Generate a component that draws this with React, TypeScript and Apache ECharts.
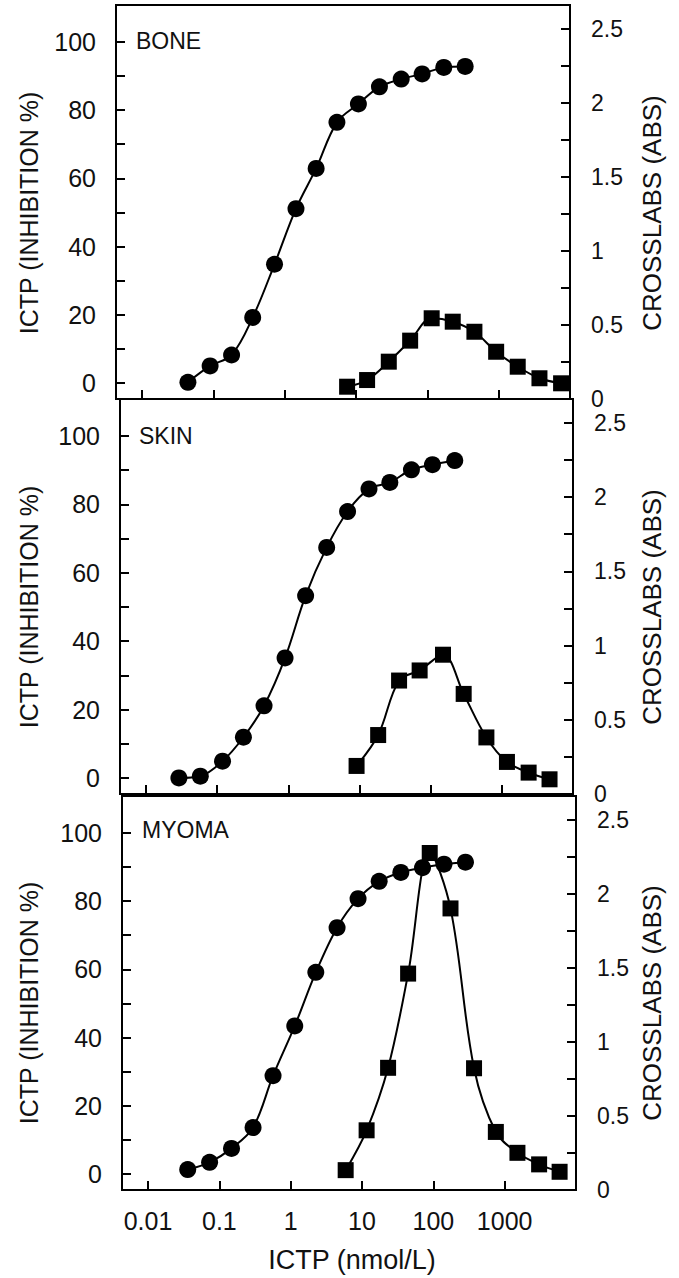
import React, { useEffect, useRef } from "react";
import * as echarts from "echarts";

// ---- axis ticks / labels ----
const xTickValues = [0.01, 0.1, 1, 10, 100, 1000];
const xTickLabels = ["0.01", "0.1", "1", "10", "100", "1000"];
const leftTicks = [0, 10, 20, 30, 40, 50, 60, 70, 80, 90, 100];
const leftLabels = [0, 20, 40, 60, 80, 100];
const rightTicks = [0, 0.25, 0.5, 0.75, 1, 1.25, 1.5, 1.75, 2, 2.25, 2.5];
const rightLabels = [0, 0.5, 1, 1.5, 2, 2.5];
const panelNames = ["BONE", "SKIN", "MYOMA"];

// ---- BONE ----
const boneIctpConc = [0.044, 0.09, 0.18, 0.356, 0.72, 1.44, 2.76, 5.4, 10.8, 21.3, 43, 84.5, 170, 339];
const boneIctpInhibition = [0.2, 5.0, 8.2, 19.2, 34.8, 51.1, 62.9, 76.4, 81.8, 86.8, 89.1, 90.6, 92.5, 92.8];
const boneCrosslabsConc = [7.5, 14.3, 28.8, 57.4, 115, 227, 457, 922, 1850, 3730, 7500];
const boneCrosslabsAbs = [0.083, 0.128, 0.252, 0.394, 0.545, 0.522, 0.454, 0.319, 0.218, 0.14, 0.106];

// ---- SKIN ----
const skinIctpConc = [0.029, 0.058, 0.119, 0.234, 0.456, 0.9, 1.75, 3.46, 6.8, 13.6, 26.7, 53.7, 106, 218];
const skinIctpInhibition = [0, 0.5, 4.9, 11.9, 21.1, 35.1, 53.3, 67.4, 77.9, 84.5, 86.4, 90.1, 91.6, 92.8];
const skinCrosslabsConc = [9.1, 18.3, 36, 70, 149, 291, 607, 1180, 2380, 4680];
const skinCrosslabsAbs = [0.189, 0.397, 0.764, 0.832, 0.938, 0.674, 0.381, 0.216, 0.144, 0.099];

// ---- MYOMA ----
const myomaIctpConc = [0.036, 0.073, 0.148, 0.297, 0.566, 1.14, 2.25, 4.47, 8.8, 17.4, 35, 70.5, 141, 282];
const myomaIctpInhibition = [1.3, 3.4, 7.5, 13.6, 28.8, 43.4, 59.1, 72.2, 80.7, 85.8, 88.4, 89.8, 90.8, 91.4];
const myomaCrosslabsConc = [5.9, 11.6, 23.2, 44.3, 89, 174, 372, 752, 1510, 3040, 5890];
const myomaCrosslabsAbs = [0.134, 0.403, 0.825, 1.461, 2.275, 1.901, 0.822, 0.392, 0.251, 0.173, 0.123];

const ictpConc = [boneIctpConc, skinIctpConc, myomaIctpConc];
const ictpInhibition = [boneIctpInhibition, skinIctpInhibition, myomaIctpInhibition];
const crossConc = [boneCrosslabsConc, skinCrosslabsConc, myomaCrosslabsConc];
const crossAbs = [boneCrosslabsAbs, skinCrosslabsAbs, myomaCrosslabsAbs];

const FONT = '"Liberation Sans", Arial, Helvetica, sans-serif';
const INK = "#111";

const grids = [
  { left: 116, top: 5, width: 454, height: 394 },
  { left: 120, top: 399, width: 453, height: 395 },
  { left: 122, top: 796, width: 454, height: 394 },
];

const lg = (v: number) => Math.round(Math.log10(v) * 1e6) / 1e6;

export default function App() {
  const ref = useRef<HTMLDivElement>(null);
  useEffect(() => {
    if (!ref.current) return;
    const chart = echarts.init(ref.current, null, { renderer: "svg" });
    const xPos = xTickValues.map(lg);

    const xAxis: any[] = [];
    const yAxis: any[] = [];
    const series: any[] = [];
    const graphic: any[] = [];

    grids.forEach((g, i) => {
      xAxis.push({
        gridIndex: i,
        type: "value",
        position: "bottom",
        min: -2.365,
        max: 4.0,
        axisLine: { show: false, onZero: false },
        splitLine: { show: false },
        axisTick: {
          show: true,
          inside: true,
          length: 9,
          customValues: xPos,
          lineStyle: { color: "#000", width: 2 },
        },
        axisLabel: {
          show: i === 2,
          customValues: xPos,
          margin: 18,
          fontSize: 25,
          color: INK,
          fontFamily: FONT,
          formatter: (v: number) => {
            const k = xPos.findIndex((p) => Math.abs(p - v) < 1e-6);
            return k >= 0 ? xTickLabels[k] : "";
          },
        },
      });
      yAxis.push({
        gridIndex: i,
        type: "value",
        position: "left",
        min: -4.7,
        max: 110.8,
        axisLine: { show: false, onZero: false },
        splitLine: { show: false },
        axisTick: {
          show: true,
          inside: true,
          length: 9,
          customValues: leftTicks,
          lineStyle: { color: "#000", width: 2 },
        },
        axisLabel: {
          customValues: leftLabels,
          margin: 20,
          fontSize: 25,
          lineHeight: 20,
          color: INK,
          fontFamily: FONT,
        },
      });
      yAxis.push({
        gridIndex: i,
        type: "value",
        position: "right",
        min: 0,
        max: 2.66,
        axisLine: { show: false, onZero: false },
        splitLine: { show: false },
        axisTick: {
          show: true,
          inside: true,
          length: 9,
          customValues: rightTicks,
          lineStyle: { color: "#000", width: 2 },
        },
        axisLabel: {
          customValues: rightLabels,
          margin: 21,
          fontSize: 23,
          lineHeight: 18,
          color: INK,
          fontFamily: FONT,
        },
      });
      series.push({
        type: "line",
        name: "ICTP " + panelNames[i],
        xAxisIndex: i,
        yAxisIndex: 2 * i,
        data: ictpConc[i].map((c, k) => [Math.log10(c), ictpInhibition[i][k]]),
        symbol: "circle",
        symbolSize: 17,
        smooth: 0.35,
        lineStyle: { color: "#000", width: 2 },
        itemStyle: { color: "#000" },
        z: 3,
      });
      series.push({
        type: "line",
        name: "CrossLaps " + panelNames[i],
        xAxisIndex: i,
        yAxisIndex: 2 * i + 1,
        data: crossConc[i].map((c, k) => [Math.log10(c), crossAbs[i][k]]),
        symbol: "rect",
        symbolSize: 16,
        smooth: 0.35,
        lineStyle: { color: "#000", width: 2 },
        itemStyle: { color: "#000" },
        z: 4,
      });
    });

    // panel labels and axis titles
    const labelPos = [
      { x: 136, y: 41 },
      { x: 139, y: 436 },
      { x: 142, y: 830 },
    ];
    const titleY = [213, 607, 1003];
    panelNames.forEach((n, i) => {
      graphic.push({
        type: "text",
        x: labelPos[i].x,
        y: labelPos[i].y,
        style: {
          text: n,
          fontSize: 23,
          fontFamily: FONT,
          fill: INK,
          align: "left",
          verticalAlign: "middle",
        },
      });
      graphic.push({
        type: "text",
        x: 29,
        y: titleY[i],
        rotation: Math.PI / 2,
        style: {
          text: "ICTP (INHIBITION %)",
          fontSize: 25,
          fontFamily: FONT,
          fill: INK,
          align: "center",
          verticalAlign: "middle",
        },
      });
      graphic.push({
        type: "text",
        x: 652,
        y: titleY[i],
        rotation: Math.PI / 2,
        style: {
          text: "CROSSLABS (ABS)",
          fontSize: 26,
          fontFamily: FONT,
          fill: INK,
          align: "center",
          verticalAlign: "middle",
        },
      });
    });
    graphic.push({
      type: "text",
      x: 352,
      y: 1260,
      style: {
        text: "ICTP (nmol/L)",
        fontSize: 27,
        fontFamily: FONT,
        fill: INK,
        align: "center",
        verticalAlign: "middle",
      },
    });

    chart.setOption({
      animation: false,
      backgroundColor: "#fff",
      grid: grids.map((g) => ({
        ...g,
        show: true,
        borderColor: "#000",
        borderWidth: 2,
        backgroundColor: "transparent",
        containLabel: false,
        outerBoundsMode: "none",
      })),
      xAxis,
      yAxis,
      series,
      graphic,
    });
    return () => chart.dispose();
  }, []);
  return (
    <div
      ref={ref}
      style={{ position: "absolute", left: 0, top: 0, width: 679, height: 1278 }}
    />
  );
}
